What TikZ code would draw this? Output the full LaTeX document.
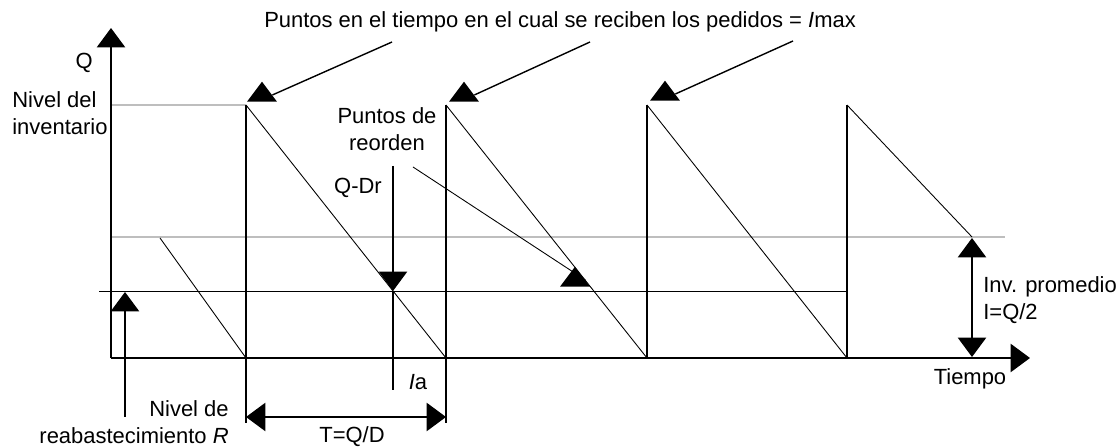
\documentclass[tikz,border=0pt]{standalone}
\usepackage{fontspec}
\setmainfont{Liberation Sans}
\usetikzlibrary{arrows.meta, shapes.geometric}
\definecolor{guideGray}{RGB}{190,190,190}

\begin{document}
\begin{tikzpicture}[x=0.02cm, y=-0.02cm, >={Triangle[width=16pt,length=11pt]},
  lbl/.style={font=\fontsize{12.5}{15.3}\selectfont, inner sep=0pt, align=center},
  axis/.style={line width=1.1pt},
  bar/.style={line width=0.75pt},
  saw/.style={line width=0.5pt},
  leader/.style={line width=0.8pt},
  guide/.style={line width=0.8pt, draw=guideGray},
  uptri/.style={regular polygon, regular polygon sides=3, fill=black,
                inner sep=0pt, minimum size=0.69cm, yscale=0.77}]

  \useasboundingbox (0,0) rectangle (1116,448);

  \coordinate (O)    at (111,358);
  \coordinate (ytop) at (111,28);
  \coordinate (xend) at (1030,358);
  \foreach \x [count=\i] in {246,446,647,847} {
    \coordinate (top\i) at (\x,105);
    \coordinate (bot\i) at (\x,358);
  }
  \coordinate (qlev) at (111,105);
  \coordinate (avgL) at (111,237);
  \coordinate (avgR) at (1005,237);
  \coordinate (sawE) at (972,237);
  \coordinate (sawS) at (160,238);
  \coordinate (ropL) at (99,291);
  \coordinate (ropR) at (847,291);
  \coordinate (dim1) at (246,423);
  \coordinate (dim2) at (446,423);

  \draw[guide] (qlev) -- (top1);
  \draw[guide] (avgL) -- (avgR);
  \draw[saw] (ropL) -- (ropR);

  \draw[axis,->] (O) -- (ytop);
  \draw[axis,->] (O) -- (xend);

  \draw[bar] (top1) -- (dim1);
  \draw[bar] (top2) -- (dim2);
  \draw[bar] (top3) -- (bot3);
  \draw[bar] (top4) -- (bot4);
  \draw[saw] (sawS) -- (bot1);
  \draw[saw] (top1) -- (bot2);
  \draw[saw] (top2) -- (bot3);
  \draw[saw] (top3) -- (bot4);
  \draw[saw] (top4) -- (sawE);

  \node[lbl, anchor=east] (qlbl) at (93,63) {Q};
  \node[lbl, anchor=west, align=left] (nivel) at (12,113) {Nivel del\\inventario};

  \node[lbl] (recibo) at (560,22) {Puntos en el tiempo en el cual se reciben los pedidos = \textit{I}max};
  \node[uptri] (tri1) at (262,95) {};
  \node[uptri] (tri2) at (464,95) {};
  \node[uptri] (tri3) at (665,94) {};
  \coordinate (from1) at (392,42);
  \coordinate (from2) at (590,42);
  \coordinate (from3) at (793,41);
  \draw[leader] (from1) -- (tri1.east);
  \draw[leader] (from2) -- (tri2.east);
  \draw[leader] (from3) -- (tri3.east);

  \node[lbl] (reorden) at (387,129) {Puntos de\\reorden};
  \node[uptri] (trirop) at (575,280) {};
  \coordinate (fromrop) at (413,167);
  \draw[saw] (fromrop) -- (trirop.east);

  \node[lbl] (qdr) at (358,188) {Q-Dr};
  \coordinate (qdrT) at (393,166);
  \coordinate (qdrB) at (393,291);
  \coordinate (qdrE) at (393,390);
  \draw[axis,->] (qdrT) -- (qdrB);
  \draw[axis] (qdrB) -- (qdrE);
  \node[lbl] (ia) at (418,382) {\textit{I}a};

  \coordinate (rB) at (125,417);
  \coordinate (rT) at (125,292);
  \draw[axis,->] (rB) -- (rT);
  \node[lbl, anchor=east, align=right] (reab) at (229,422) {Nivel de\\reabastecimiento \textit{R}};

  \coordinate (tL) at (246,417);
  \coordinate (tR) at (446,417);
  \draw[axis,<->] (tL) -- (tR);
  \node[lbl] (tqd) at (352,437) {T=Q/D};

  \coordinate (invT) at (972,238);
  \coordinate (invB) at (972,357);
  \draw[axis,<->] (invB) -- (invT);
  \node[lbl, anchor=west, align=left] (inv) at (983,300) {Inv. promedio\\I=Q/2};
  \node[lbl] (tiempo) at (970,379) {Tiempo};

\end{tikzpicture}
\end{document}
